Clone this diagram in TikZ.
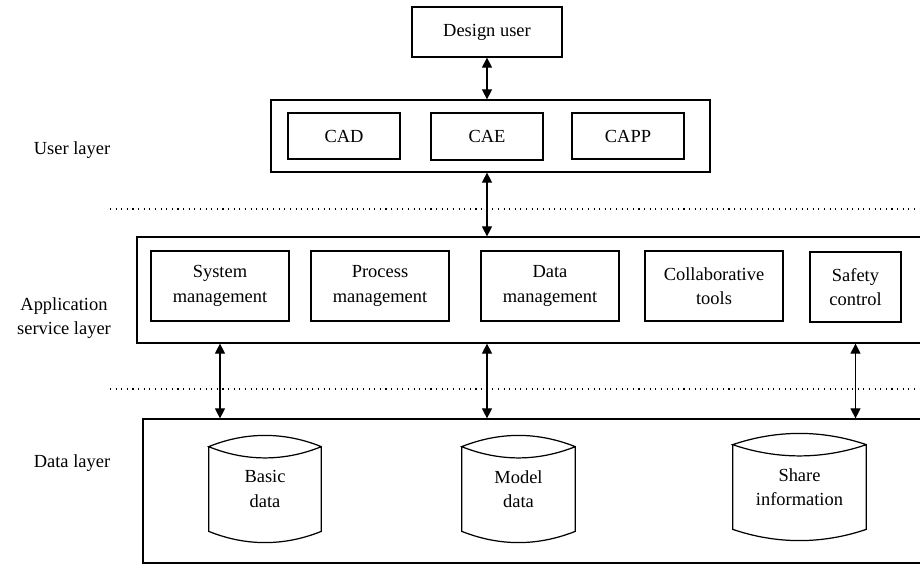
\documentclass[tikz,border=0pt]{standalone}
\usepackage{fontspec}
\setmainfont{Liberation Serif}
\usetikzlibrary{arrows.meta}

% database drum round a node: #1 node name, #2 a third of its width
\newcommand{\dbcyl}[2]{%
  \draw[line width=0.7pt] (#1.north west) -- (#1.south west)
    .. controls +(#2,15) and +(-#2,15) .. (#1.south east) -- (#1.north east)
    .. controls +(-#2,-15) and +(#2,-15) .. (#1.north west)
    .. controls +(#2,15) and +(-#2,15) .. (#1.north east);}

\begin{document}
\begin{tikzpicture}[x=0.02cm, y=-0.02cm,
    every node/.style={align=center, font=\fontsize{10.5}{14}\selectfont},
    box/.style={draw, line width=0.7pt, inner sep=0pt},
    frame/.style={draw, line width=0.7pt, inner sep=0pt},
    db/.style={inner sep=0pt, minimum height=1.68cm},
    link/.style={{Triangle[length=2mm,width=2mm]}-{Triangle[length=2mm,width=2mm]}, line width=0.6pt},
    sep/.style={line width=0.6pt, dash pattern=on 0.6pt off 2.6pt}]
    \clip (0,0) rectangle (920,565);

    % user layer
    \node[box, minimum width=3cm, minimum height=1cm] (du) at (487,32) {Design user};
    \node[frame, minimum width=8.78cm, minimum height=1.44cm] (uf) at (490.5,136) {};
    \node[box, minimum width=2.24cm, minimum height=0.92cm] (cad) at (344,136) {CAD};
    \node[box, minimum width=2.24cm, minimum height=0.94cm] (cae) at (487,136.5) {CAE};
    \node[box, minimum width=2.24cm, minimum height=0.92cm] (capp) at (628,136) {CAPP};

    % application service layer
    \node[frame, minimum width=15.96cm, minimum height=2.12cm] (af) at (536,290) {};
    \node[box, minimum width=2.76cm, minimum height=1.4cm] (sys) at (220,286) {System\\management};
    \node[box, minimum width=2.76cm, minimum height=1.4cm] (proc) at (380,286) {Process\\management};
    \node[box, minimum width=2.76cm, minimum height=1.4cm] (dman) at (550,286) {Data\\management};
    \node[box, minimum width=2.76cm, minimum height=1.4cm] (coll) at (714,286) {Collaborative\\tools};
    \node[box, minimum width=1.82cm, minimum height=1.4cm] (safe) at (855.5,287) {Safety\\control};

    % data layer
    \node[frame, minimum width=15.84cm, minimum height=2.88cm] (df) at (539,491) {};
    \node[db, minimum width=2.24cm] (basic) at (265,489) {Basic\\data};
    \node[db, minimum width=2.26cm] (model) at (518.5,489) {Model\\data};
    \node[db, minimum width=2.66cm] (share) at (799.5,487) {Share\\information};
    \dbcyl{basic}{37}
    \dbcyl{model}{38}
    \dbcyl{share}{44}

    % layer names
    \node (lu) at (72,150) {User layer};
    \node (la) at (64,318) {Application\\service layer};
    \node (ld) at (72,463) {Data layer};

    \draw[sep] (110,209) -- (920,209);
    \draw[sep] (110,389) -- (920,389);

    \draw[link] (du.south) -- (du.south |- uf.north);
    \draw[link] (cae.south |- uf.south) -- (cae.south |- af.north);
    \draw[link] (sys.south |- af.south) -- (sys.south |- df.north);
    \draw[link] (cae.south |- af.south) -- (cae.south |- df.north);
    \draw[link] (safe.south |- af.south) -- (safe.south |- df.north);
\end{tikzpicture}
\end{document}
